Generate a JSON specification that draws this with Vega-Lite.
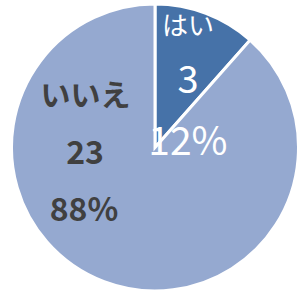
{
  "$schema": "https://vega.github.io/schema/vega-lite/v6.json",
  "width": 301,
  "height": 295,
  "autosize": {"type": "fit", "contains": "padding"},
  "padding": {"left": 9, "top": 0, "right": 0, "bottom": 0},
  "background": "white",
  "view": {"stroke": null},
  "data": {"values": [
    {"label": "はい", "count": 3, "pct": "12%", "idx": 1},
    {"label": "いいえ", "count": 23, "pct": "88%", "idx": 2}
  ]},
  "encoding": {
    "theta": {"field": "count", "type": "quantitative", "stack": true},
    "order": {"field": "idx", "type": "quantitative"}
  },
  "layer": [
    {
      "mark": {"type": "arc", "outerRadius": 143.5, "stroke": "white", "strokeWidth": 3},
      "encoding": {
        "color": {"field": "label", "type": "nominal", "scale": {"domain": ["はい", "いいえ"], "range": ["#4672A8", "#95A9D0"]}, "legend": null}
      }
    },
    {
      "mark": {"type": "text", "radius": 132.6, "dx": -14, "dy": 3, "font": "Noto Sans CJK JP", "fontSize": 26, "color": "white", "baseline": "middle", "align": "center"},
      "encoding": {"text": {"condition": {"test": "datum.label === 'はい'", "field": "label"}, "value": ""}}
    },
    {
      "mark": {"type": "text", "radius": 73.3, "dx": 7, "dy": 3, "font": "Noto Sans CJK JP", "fontSize": 38, "color": "white", "baseline": "middle", "align": "center"},
      "encoding": {"text": {"condition": {"test": "datum.label === 'はい'", "field": "count"}, "value": ""}}
    },
    {
      "mark": {"type": "text", "radius": 5.3, "dx": 31, "font": "Noto Sans CJK JP", "fontSize": 39, "color": "white", "baseline": "middle", "align": "center"},
      "encoding": {"text": {"condition": {"test": "datum.label === 'はい'", "field": "pct"}, "value": ""}}
    },
    {
      "mark": {"type": "text", "radius": 0, "dx": -69.5, "dy": -51, "font": "Noto Sans CJK JP", "fontSize": 30, "fontWeight": "bold", "color": "#404040", "baseline": "middle", "align": "center"},
      "encoding": {"text": {"condition": {"test": "datum.label === 'いいえ'", "field": "label"}, "value": ""}}
    },
    {
      "mark": {"type": "text", "radius": 0, "dx": -70, "dy": 6.5, "font": "Noto Sans CJK JP", "fontSize": 32, "fontWeight": "bold", "color": "#404040", "baseline": "middle", "align": "center"},
      "encoding": {"text": {"condition": {"test": "datum.label === 'いいえ'", "field": "count"}, "value": ""}}
    },
    {
      "mark": {"type": "text", "radius": 0, "dx": -71, "dy": 63.5, "font": "Noto Sans CJK JP", "fontSize": 32, "fontWeight": "bold", "color": "#404040", "baseline": "middle", "align": "center"},
      "encoding": {"text": {"condition": {"test": "datum.label === 'いいえ'", "field": "pct"}, "value": ""}}
    }
  ]
}
